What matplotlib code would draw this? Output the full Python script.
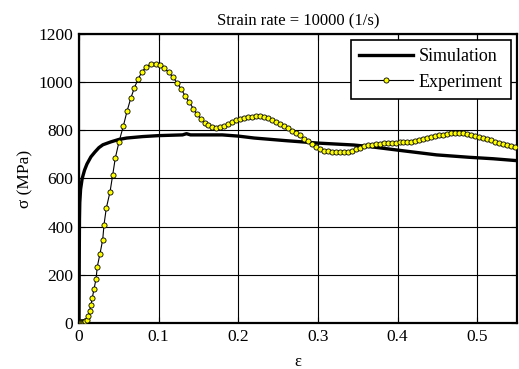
import matplotlib
matplotlib.use('Agg')
import matplotlib.pyplot as plt

# Simulation curve (strain, stress in MPa)
sim_eps = [0, 0.0003, 0.0006, 0.001, 0.002, 0.004, 0.007, 0.01, 0.015, 0.02,
           0.025, 0.03, 0.04, 0.05, 0.06, 0.08, 0.1, 0.12, 0.13, 0.135,
           0.14, 0.16, 0.18, 0.2, 0.22, 0.26, 0.30, 0.345, 0.366, 0.407,
           0.449, 0.49, 0.52, 0.55]
sim_sig = [0, 250, 430, 500, 555, 600, 635, 660, 690, 710,
           728, 740, 752, 762, 768, 774, 778, 780, 781, 786,
           781, 781, 781, 776, 768, 757, 747, 739, 732, 715,
           698, 688, 682, 674]

# Experiment points
exp_eps = [0, 0.001, 0.002, 0.003, 0.004, 0.005, 0.006, 0.007, 0.008,
           0.0097, 0.0117, 0.0134, 0.0151, 0.0167, 0.0188, 0.0214, 0.023,
           0.0264, 0.0298, 0.0314, 0.0343, 0.039, 0.0423, 0.0456, 0.0503,
           0.0557, 0.0603, 0.065, 0.0695, 0.0741, 0.0791, 0.0845, 0.0905,
           0.0964, 0.1021, 0.1072, 0.1127, 0.1177, 0.1235, 0.1285, 0.1335,
           0.1386, 0.1436, 0.1482, 0.1533, 0.1579, 0.1624, 0.1675, 0.1725,
           0.1775, 0.1825, 0.1875, 0.1925, 0.1975, 0.2025, 0.2075, 0.2125,
           0.2175, 0.2225, 0.2275, 0.2325, 0.2375, 0.2425, 0.2475, 0.2525,
           0.2575, 0.2625, 0.2675, 0.2725, 0.2775, 0.2825, 0.2875, 0.2925,
           0.2975, 0.3025, 0.3075, 0.3125, 0.3175, 0.3225, 0.3275, 0.3325,
           0.3375, 0.3425, 0.3475, 0.3525, 0.3575, 0.3625, 0.3675, 0.3725,
           0.3775, 0.3825, 0.3875, 0.3925, 0.3975, 0.4025, 0.4075, 0.4125,
           0.4175, 0.4225, 0.4275, 0.4325, 0.4375, 0.4425, 0.4475, 0.4525,
           0.4575, 0.4625, 0.4675, 0.4725, 0.4775, 0.4825, 0.4875, 0.4925,
           0.4975, 0.5025, 0.5075, 0.5125, 0.5175, 0.5225, 0.5275, 0.5325,
           0.5375, 0.5425, 0.5475]
exp_sig = [0, 2, 3, 4, 5, 5, 6, 8, 10,
           12, 29, 50, 76, 104, 140, 183, 234,
           288, 346, 408, 477, 545, 614, 685, 753,
           818, 879, 933, 976, 1012, 1043, 1064, 1075,
           1075, 1070, 1057, 1041, 1021, 996, 970, 942,
           916, 890, 866, 847, 830, 822, 814, 811,
           815, 820, 827, 836, 843, 848, 851, 854,
           857, 859, 859, 856, 850, 843, 836, 828,
           820, 811, 798, 790, 780, 766, 754, 743,
           732, 722, 716, 713, 711, 710, 710, 710,
           712, 716, 722, 728, 733, 738, 741, 743,
           745, 746, 747, 748, 749, 750, 751, 752,
           753, 756, 760, 764, 768, 772, 776, 779,
           782, 785, 787, 788, 788, 787, 784, 781,
           777, 773, 768, 763, 758, 752, 747, 743,
           739, 735, 731]

plt.rcParams['font.family'] = ['Liberation Serif', 'DejaVu Serif']

fig = plt.figure(figsize=(5.19, 3.69), dpi=100)
ax = fig.add_axes([0.1522, 0.1247, 0.8439, 0.7832])

ax.plot(sim_eps, sim_sig, color='black', linewidth=2.4, label='Simulation', zorder=3)
ax.plot(exp_eps, exp_sig, color='black', linewidth=0.8, marker='o', markersize=3.7,
        markerfacecolor='#ffff00', markeredgecolor='black', markeredgewidth=0.6,
        label='Experiment', zorder=4)

ax.set_xlim(0, 0.55)
ax.set_ylim(0, 1200)
ax.set_xticks([0, 0.1, 0.2, 0.3, 0.4, 0.5])
ax.set_xticklabels(['0', '0.1', '0.2', '0.3', '0.4', '0.5'])
ax.set_yticks(range(0, 1201, 200))
ax.grid(True, color='black', linewidth=0.8)
ax.tick_params(direction='in', top=True, right=True, length=4, labelsize=12.5, pad=4)
for s in ax.spines.values():
    s.set_linewidth(1.6)

ax.set_title('Strain rate = 10000 (1/s)', fontsize=12, pad=6)
ax.set_xlabel('ε', fontsize=12, labelpad=7)
ax.set_ylabel('σ (MPa)', fontsize=12.5, labelpad=4)

leg = ax.legend(loc='upper right', fontsize=13, handlelength=3.0, fancybox=False,
                framealpha=1, edgecolor='black', borderpad=0.45, labelspacing=0.45,
                handletextpad=0.3, borderaxespad=0.35)
leg.get_frame().set_linewidth(1.2)

fig.savefig('out.png', dpi=100)
